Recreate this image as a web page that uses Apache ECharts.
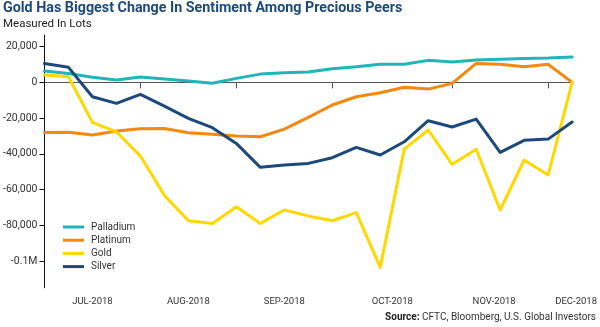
<!DOCTYPE html>
<html>
<head>
<meta charset="utf-8">
<title>Gold Has Biggest Change In Sentiment Among Precious Peers</title>
<script src="https://cdn.jsdelivr.net/npm/echarts@6/dist/echarts.min.js"></script>
<style>
  html, body { margin: 0; padding: 0; background: #ffffff; }
  #chart { width: 600px; height: 327px; }
</style>
</head>
<body>
<div id="chart"></div>
<script>
// Weekly CFTC report dates (net speculative positioning, in lots)
const weeks = [
  '2018-07-10', '2018-07-17', '2018-07-24', '2018-07-31', '2018-08-07', '2018-08-14',
  '2018-08-21', '2018-08-28', '2018-09-04', '2018-09-11', '2018-09-18', '2018-09-25',
  '2018-10-02', '2018-10-09', '2018-10-16', '2018-10-23', '2018-10-30', '2018-11-06',
  '2018-11-13', '2018-11-20', '2018-11-27', '2018-12-04', '2018-12-11'
];
const palladium = [6300, 5000, 2800, 1300, 3000, 1900, 700, -500, 2200, 4600, 5400, 5800,
  7600, 8700, 10100, 10100, 12300, 11400, 12500, 12900, 13300, 13600, 14200];
const platinum = [-28100, -28000, -29500, -27300, -26000, -25800, -28200, -29100, -30100, -30500, -26200, -19600,
  -12700, -8100, -5800, -2800, -3800, -600, 10600, 10100, 8700, 10100, 0];
const gold = [4100, 3100, -22400, -27700, -41300, -63300, -77500, -79000, -69700, -79000, -71500, -74800,
  -77500, -73000, -103600, -37400, -26700, -45900, -37500, -71500, -43500, -51900, 0];
const silver = [10500, 8400, -8100, -11800, -6700, -13300, -20200, -25400, -34200, -47600, -46300, -45400,
  -42200, -36400, -40700, -33300, -21500, -25000, -20600, -39200, -32500, -31800, -22200];

const yTicks = [20000, 0, -20000, -40000, -60000, -80000, -100000];
const monthLabels = ['JUL-2018', 'AUG-2018', 'SEP-2018', 'OCT-2018', 'NOV-2018', 'DEC-2018'];
// Where each month label sits, in weeks from the first report
const monthLabelAt = [2, 6, 10, 14.5, 18.75, 22];

// A tick marks the first report of each new month
const monthStart = weeks.map((d, i) => i > 0 && d.slice(5, 7) !== weeks[i - 1].slice(5, 7));

const COLORS = {
  palladium: '#1fb5b9',
  platinum: '#f7880f',
  gold: '#ffd800',
  silver: '#1b4a7a'
};
const LABEL_FONT = '"Liberation Sans Narrow", Roboto, sans-serif';

function fmtLots(v) {
  if (v === -100000) return '-0.1M';
  const s = Math.abs(v).toString().replace(/\B(?=(\d{3})+(?!\d))/g, ',');
  return (v < 0 ? '-' : '') + s;
}

const chart = echarts.init(document.getElementById('chart'), null, { renderer: 'canvas' });

function lineSeries(name, data, color) {
  return {
    name: name,
    type: 'line',
    data: data,
    xAxisIndex: 0,
    yAxisIndex: 0,
    symbol: 'none',
    smooth: false,
    lineStyle: { color: color, width: 3, cap: 'round', join: 'round' },
    itemStyle: { color: color },
    emphasis: { disabled: true },
    animation: false
  };
}

chart.setOption({
  backgroundColor: '#ffffff',
  animation: false,
  title: [
    {
      text: 'Gold Has Biggest Change In Sentiment Among Precious Peers',
      left: 3, top: 1, padding: 0,
      textStyle: { color: '#1d4a7b', fontFamily: 'Roboto, sans-serif', fontWeight: 'bold', fontSize: 14.3 }
    },
    {
      text: 'Measured In Lots',
      left: 3, top: 18, padding: 0,
      textStyle: { color: '#222222', fontFamily: LABEL_FONT, fontWeight: 'normal', fontSize: 11.5 }
    },
    {
      text: '{b|Source:} CFTC, Bloomberg, U.S. Global Investors',
      right: 4, top: 312, padding: 0,
      textStyle: {
        color: '#333333', fontFamily: LABEL_FONT, fontWeight: 'normal', fontSize: 10,
        rich: { b: { fontWeight: 'bold', color: '#222222', fontFamily: LABEL_FONT, fontSize: 10 } }
      }
    }
  ],
  legend: {
    orient: 'vertical',
    left: 63, top: 221,
    icon: 'rect',
    itemWidth: 21, itemHeight: 3, itemGap: 1.2,
    padding: 0,
    selectedMode: false,
    textStyle: { color: '#333333', fontFamily: LABEL_FONT, fontSize: 10, lineHeight: 12, padding: [0, 0, 0, 2] },
    data: ['Palladium', 'Platinum', 'Gold', 'Silver']
  },
  grid: { left: 41, right: 27, top: 35, bottom: 39.3, containLabel: false },
  xAxis: [
    {
      type: 'category',
      data: weeks,
      boundaryGap: false,
      position: 'bottom',
      axisLine: { onZero: true, lineStyle: { color: '#555555', width: 1 } },
      axisTick: { show: true, length: 6, lineStyle: { color: '#555555', width: 1 },
        interval: (i) => monthStart[i] },
      axisLabel: { show: false },
      splitLine: { show: false }
    },
    {
      type: 'value',
      min: 0, max: weeks.length - 1,
      position: 'bottom',
      axisLine: { show: false, onZero: false },
      axisTick: { show: false },
      splitLine: { show: false },
      axisLabel: {
        show: true,
        customValues: monthLabelAt,
        margin: 9,
        color: '#333333', fontFamily: LABEL_FONT, fontSize: 9.5,
        formatter: (v) => {
          const k = monthLabelAt.findIndex(p => Math.abs(p - v) < 1e-6);
          if (k < 0) return '';
          return k === monthLabels.length - 1 ? '{last|' + monthLabels[k] + '}' : monthLabels[k];
        },
        rich: { last: { padding: [0, 0, 0, 8], color: '#333333', fontFamily: LABEL_FONT, fontSize: 9.5 } }
      }
    }
  ],
  yAxis: {
    type: 'value',
    min: -115000, max: 26500,
    axisLine: { show: true, onZero: false, lineStyle: { color: '#111111', width: 1 } },
    axisTick: { show: true, length: 5, customValues: yTicks, lineStyle: { color: '#111111', width: 1 } },
    axisLabel: {
      customValues: yTicks, margin: 7,
      color: '#333333', fontFamily: LABEL_FONT, fontSize: 10.5,
      formatter: fmtLots
    },
    splitLine: { show: false }
  },
  series: [
    lineSeries('Palladium', palladium, COLORS.palladium),
    lineSeries('Platinum', platinum, COLORS.platinum),
    lineSeries('Gold', gold, COLORS.gold),
    lineSeries('Silver', silver, COLORS.silver)
  ]
});
</script>
</body>
</html>
